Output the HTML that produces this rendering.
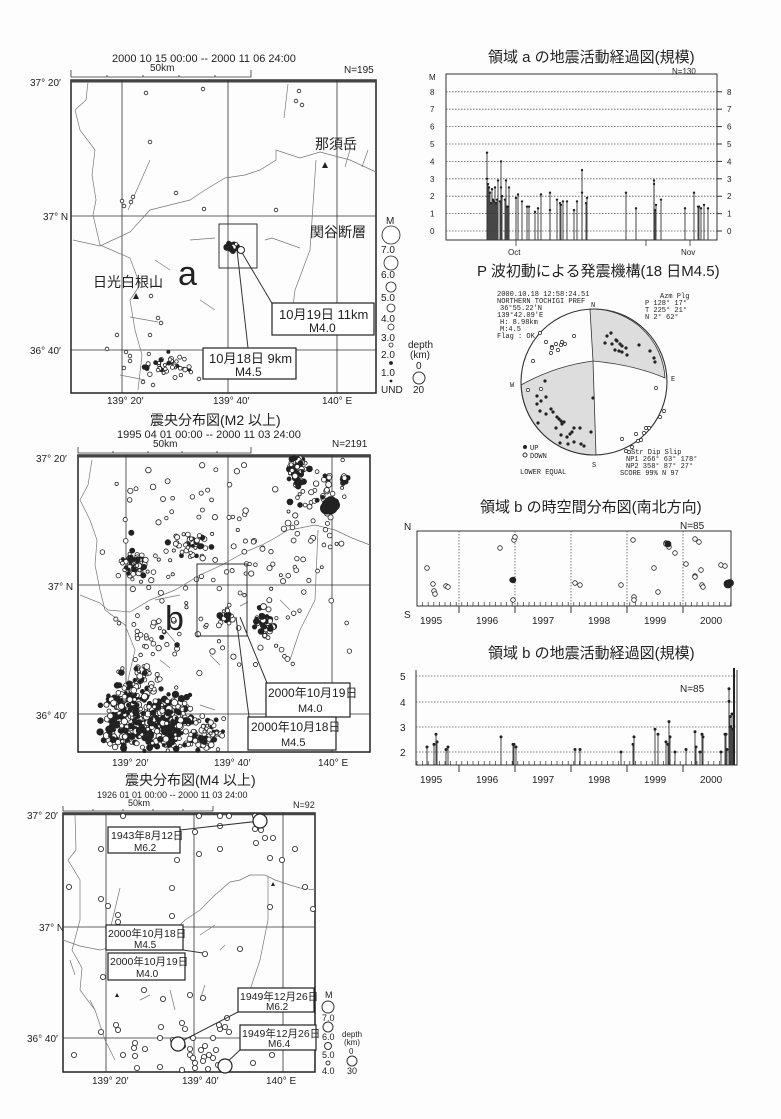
<!DOCTYPE html>
<html><head><meta charset="utf-8"><style>
html,body{margin:0;padding:0;background:#fdfdfd;}
svg{display:block;font-family:"Liberation Sans","Noto Sans CJK JP",sans-serif;}
.t{font-size:10px;fill:#222}
.j{font-size:15px;fill:#222}
.m{font-family:"Liberation Mono",monospace;font-size:7px;fill:#222}
.g{stroke:#333;stroke-width:0.8;fill:none}
.b{stroke:#777;stroke-width:0.7;fill:none}
.f{stroke:#333;stroke-width:1;fill:none}
.box{fill:#fff;stroke:#222;stroke-width:1.2}
.d{stroke:#555;stroke-width:0.8;stroke-dasharray:1.5 1.5;fill:none}
</style></head><body>
<svg id="s" width="781" height="1119" viewBox="0 0 781 1119" xmlns="http://www.w3.org/2000/svg">
<!-- ===== MAP A ===== -->
<text class="t" x="112" y="62" style="font-size:11px">2000 10 15 00:00 -- 2000 11 06 24:00</text>
<text class="t" x="150" y="71">50km</text>
<path class="g" d="M71 70V77H251V70M107 77v-2M143 77v-2M179 77v-2M215 77v-2"/>
<text class="t" x="344" y="73">N=195</text>
<rect x="71" y="80" width="305" height="313" fill="none" stroke="#222" stroke-width="1.5"/>
<line x1="71" y1="81" x2="376" y2="81" stroke="#444" stroke-width="3"/>
<path class="g" d="M122 80V393M228 80V393M337 80V393M71 216H376M71 350H376"/>
<text class="t" x="30" y="86">37° 20′</text>
<text class="t" x="43" y="220">37° N</text>
<text class="t" x="30" y="354">36° 40′</text>
<text class="t" x="107" y="404">139° 20′</text>
<text class="t" x="213" y="404">139° 40′</text>
<text class="t" x="322" y="404">140° E</text>
<path class="b" d="M73 240L100 246L130 232L150 210L170 205L190 200L205 190L225 178L245 175L260 170L276 160L276 150L300 158L320 152L350 160L376 172"/>
<path class="b" d="M88 82L86 100L75 110L80 130L95 150L92 175L96 200L93 215L100 245L130 258L140 285L130 300L135 330L142 355L138 390"/>
<path class="b" d="M150 160L128 210M316 160L310 250L295 290L290 330M288 84L284 118M350 150L345 167M368 150L362 167M265 240L272 238L300 248M155 260L170 270M190 240L215 238M200 300L215 310M130 317L158 322M120 375L145 380"/>
<polygon points="325,162 322,168 328,168" fill="#222"/>
<polygon points="136,293 133,299 139,299" fill="#222"/>
<text class="j" x="315" y="149" style="font-size:14px">那須岳</text>
<text class="j" x="310" y="237" style="font-size:14px">関谷断層</text>
<text class="j" x="93" y="287" style="font-size:14px">日光白根山</text>
<text x="178" y="285" style="font-size:34px;fill:#222">a</text>
<rect x="219" y="224" width="38" height="44" class="f"/>
<line x1="241" y1="251" x2="273" y2="305" class="f"/>
<line x1="237" y1="250" x2="248" y2="348" class="f"/>
<circle cx="236" cy="247" r="4" fill="#222"/><circle cx="241" cy="250" r="3.5" fill="#fff" stroke="#222"/>
<rect x="272" y="303" width="102" height="32" class="box"/>
<text class="j" x="279" y="319" style="font-size:13px">10月19日 11km</text>
<text class="t" x="309" y="332" style="font-size:12px">M4.0</text>
<rect x="203" y="348" width="93" height="31" class="box"/>
<text class="j" x="209" y="363" style="font-size:13px">10月18日 9km</text>
<text class="t" x="235" y="376" style="font-size:12px">M4.5</text>
<g id="legA"></g>
<text class="t" x="386" y="224">M</text>
<text class="t" x="381" y="253">7.0</text><text class="t" x="381" y="278">6.0</text><text class="t" x="381" y="301">5.0</text>
<text class="t" x="381" y="322">4.0</text><text class="t" x="381" y="341">3.0</text><text class="t" x="381" y="358">2.0</text>
<text class="t" x="381" y="376">1.0</text><text class="t" x="381" y="393">UND</text>
<text class="t" x="408" y="348">depth</text><text class="t" x="410" y="358">(km)</text>
<text class="t" x="416" y="369">0</text><circle cx="419" cy="378" r="6" class="f"/><text class="t" x="413" y="393">20</text>
<g id="dotsA"></g>
<!-- ===== MAP B ===== -->
<text class="j" x="150" y="425" style="font-size:14px">震央分布図(M2 以上)</text>
<text class="t" x="117" y="438" style="font-size:11px">1995 04 01 00:00 -- 2000 11 03 24:00</text>
<text class="t" x="153" y="447">50km</text>
<path class="g" d="M78 447V453H251V447M113 453v-2M148 453v-2M182 453v-2M217 453v-2"/>
<text class="t" x="332" y="447">N=2191</text>
<rect x="78" y="455" width="292" height="297" fill="none" stroke="#222" stroke-width="1.5"/>
<line x1="78" y1="456" x2="370" y2="456" stroke="#444" stroke-width="3"/>
<path class="g" d="M126 455V752M228 455V752M332 455V752M78 585H370M78 714H370"/>
<text class="t" x="36" y="462">37° 20′</text>
<text class="t" x="48" y="590">37° N</text>
<text class="t" x="36" y="719">36° 40′</text>
<text class="t" x="112" y="766">139° 20′</text>
<text class="t" x="214" y="766">139° 40′</text>
<text class="t" x="318" y="766">140° E</text>
<path class="b" d="M80 595L100 603L108 610L130 612L150 600L175 590L200 575L222 565L245 552L262 545L275 538L288 530L300 528L315 525L335 530L352 538L370 545"/>
<path class="b" d="M92 460L88 485L80 500L90 520L97 540L95 565L100 590L105 610L125 625L135 650L128 680L130 710M318 530L315 600L300 630L290 660"/>
<path class="b" d="M155 600L180 595M165 630L175 642M240 606L248 602M280 600L290 610M210 655L220 665M200 705L215 710M160 660L170 668"/>
<g id="dotsB"></g>
<rect x="197" y="564" width="50" height="72" class="f"/>
<line x1="240" y1="617" x2="267" y2="683" class="f"/>
<line x1="236" y1="617" x2="249" y2="717" class="f"/>
<text x="165" y="630" style="font-size:34px;fill:#222">b</text>
<rect x="266" y="683" width="84" height="34" class="box"/>
<text class="j" x="268" y="697" style="font-size:12px">2000年10月19日</text>
<text class="t" x="298" y="712" style="font-size:11px">M4.0</text>
<rect x="248" y="717" width="88" height="33" class="box"/>
<text class="j" x="251" y="731" style="font-size:12px">2000年10月18日</text>
<text class="t" x="281" y="746" style="font-size:11px">M4.5</text>
<!-- ===== MAP C ===== -->
<text class="j" x="125" y="785" style="font-size:14px">震央分布図(M4 以上)</text>
<text class="t" x="97" y="798" style="font-size:9px">1926 01 01 00:00 -- 2000 11 03 24:00</text>
<text class="t" x="128" y="806" style="font-size:9px">50km</text>
<path class="g" d="M63 806V811H213V806M93 811v-2M123 811v-2M153 811v-2M183 811v-2"/>
<text class="t" x="293" y="808" style="font-size:9px">N=92</text>
<rect x="63" y="813" width="252" height="259" fill="none" stroke="#222" stroke-width="1.5"/>
<line x1="63" y1="814" x2="315" y2="814" stroke="#444" stroke-width="2.5"/>
<path class="g" d="M106 813V1072M194 813V1072M283 813V1072M63 927H315M63 1038H315"/>
<text class="t" x="27" y="819">37° 20′</text>
<text class="t" x="39" y="931">37° N</text>
<text class="t" x="27" y="1042">36° 40′</text>
<text class="t" x="92" y="1084">139° 20′</text>
<text class="t" x="182" y="1084">139° 40′</text>
<text class="t" x="266" y="1084">140° E</text>
<path class="b" d="M63 940L80 946L100 950L120 945L145 950L170 935L185 920L200 910L215 895L230 882L240 880L250 875L265 875L275 880L290 885L300 888L315 890"/>
<path class="b" d="M75 815L76 850L68 860L80 880L80 920L72 950L82 968L80 990L95 1010L105 1040L115 1060M268 877L268 920L260 960L250 990L243 1000"/>
<path class="b" d="M120 888L110 930M200 935L215 925M220 950L225 945M70 960L75 975M90 1000L95 1010M170 990L175 1010M205 985L200 1000M140 1000L150 995"/>
<polygon points="273,882 271,886 275,886" fill="#222"/>
<polygon points="117,993 115,997 119,997" fill="#222"/>
<g id="dotsC"></g>
<line x1="180" y1="830" x2="260" y2="821" class="f"/>
<line x1="183" y1="950" x2="203" y2="953" class="f"/>
<line x1="238" y1="1012" x2="180" y2="1042" class="f"/>
<line x1="240" y1="1050" x2="225" y2="1064" class="f"/>
<circle cx="260" cy="821" r="7" fill="#fff" stroke="#222" stroke-width="1.2"/>
<circle cx="178" cy="1044" r="7" fill="#fff" stroke="#222" stroke-width="1.2"/>
<circle cx="225" cy="1066" r="7" fill="#fff" stroke="#222" stroke-width="1.2"/>
<rect x="108" y="827" width="72" height="26" class="box"/>
<text class="j" x="111" y="839" style="font-size:10.5px">1943年8月12日</text><text class="t" x="134" y="851">M6.2</text>
<rect x="106" y="925" width="77" height="25" class="box"/>
<text class="j" x="108" y="937" style="font-size:10.5px">2000年10月18日</text><text class="t" x="134" y="948">M4.5</text>
<rect x="108" y="953" width="77" height="27" class="box"/>
<text class="j" x="110" y="965" style="font-size:10.5px">2000年10月19日</text><text class="t" x="136" y="977">M4.0</text>
<rect x="238" y="988" width="76" height="24" class="box"/>
<text class="j" x="240" y="1000" style="font-size:10.5px">1949年12月26日</text><text class="t" x="266" y="1010">M6.2</text>
<rect x="240" y="1025" width="76" height="25" class="box"/>
<text class="j" x="242" y="1037" style="font-size:10.5px">1949年12月26日</text><text class="t" x="268" y="1047">M6.4</text>
<text class="t" x="325" y="998" style="font-size:9px">M</text>
<circle cx="328" cy="1007" r="6" class="f"/><text class="t" x="322" y="1021" style="font-size:9px">7.0</text>
<circle cx="328" cy="1027" r="5" class="f"/><text class="t" x="322" y="1040" style="font-size:9px">6.0</text>
<circle cx="328" cy="1046" r="3.5" class="f"/><text class="t" x="322" y="1058" style="font-size:9px">5.0</text>
<circle cx="328" cy="1063" r="2" class="f"/><text class="t" x="322" y="1074" style="font-size:9px">4.0</text>
<text class="t" x="342" y="1037" style="font-size:8px">depth</text><text class="t" x="344" y="1045" style="font-size:8px">(km)</text>
<text class="t" x="349" y="1054" style="font-size:8px">0</text><circle cx="352" cy="1061" r="5" class="f"/><text class="t" x="347" y="1074" style="font-size:9px">30</text>
<!-- ===== CHART A ===== -->
<text class="j" x="488" y="62">領域 a の地震活動経過図(規模)</text>
<text class="t" x="672" y="74" style="font-size:8px">N=130</text>
<text class="t" x="429" y="80" style="font-size:8px">M</text>
<rect x="446" y="74" width="271" height="166" class="f"/>
<g id="gridA"></g>
<text class="t" x="508" y="255" style="font-size:8px">Oct</text>
<text class="t" x="681" y="255" style="font-size:8px">Nov</text>
<line x1="516" y1="240" x2="516" y2="246" class="g"/><line x1="646" y1="240" x2="646" y2="246" class="g"/><line x1="690" y1="240" x2="690" y2="246" class="g"/>
<g id="barsA"></g>
<!-- ===== BEACH BALL ===== -->
<text class="j" x="477" y="276">P 波初動による発震機構(18 日M4.5)</text>
<path d="M590 309 L593 361 Q635 365 665 378 A73 73 0 0 0 590 309Z" fill="#ddd" stroke="#333" stroke-width="0.8"/>
<path d="M521 385 Q555 366 593 361 L596 455 A73 73 0 0 1 521 385Z" fill="#ddd" stroke="#333" stroke-width="0.8"/>
<circle cx="594" cy="382" r="73" fill="none" stroke="#333" stroke-width="1.1"/>
<g id="bb"></g>
<text class="m" x="497" y="296">2000.10.18  12:58:24.51</text>
<text class="m" x="497" y="303">NORTHERN TOCHIGI PREF</text>
<text class="m" x="500" y="310"> 36°55.22′N</text>
<text class="m" x="497" y="317">139°42.09′E</text>
<text class="m" x="500" y="324">  H:  8.98km</text>
<text class="m" x="500" y="331">  M:4.5</text>
<text class="m" x="497" y="338">Flag : OK</text>
<text class="m" x="660" y="298">Azm Plg</text>
<text class="m" x="645" y="305">P    128° 17°</text>
<text class="m" x="645" y="312">T    225° 21°</text>
<text class="m" x="645" y="319">N      2° 62°</text>
<text class="m" x="591" y="307">N</text><text class="m" x="510" y="387">W</text><text class="m" x="671" y="381">E</text><text class="m" x="592" y="467">S</text>
<circle cx="525" cy="447" r="2" fill="#222"/><text class="m" x="530" y="450">UP</text>
<circle cx="525" cy="455" r="2" class="f"/><text class="m" x="530" y="458">DOWN</text>
<text class="m" x="631" y="454">Str Dip Slip</text>
<text class="m" x="626" y="461">NP1 266° 63° 178°</text>
<text class="m" x="626" y="468">NP2 358° 87°  27°</text>
<text class="m" x="620" y="475">SCORE  99%   N  97</text>
<text class="m" x="520" y="474">LOWER EQUAL</text>
<!-- ===== CHART B1 ===== -->
<text class="j" x="480" y="512">領域 b の時空間分布図(南北方向)</text>
<text class="t" x="404" y="530">N</text><text class="t" x="404" y="618">S</text>
<text class="t" x="680" y="529">N=85</text>
<rect x="417" y="531" width="314" height="75" class="f"/>
<path class="d" d="M459 531V606M515 531V606M571 531V606M627 531V606M683 531V606"/>
<g id="ticksB1"></g>
<g id="dotsB1"></g>
<text class="t" x="420" y="624">1995</text><text class="t" x="476" y="624">1996</text><text class="t" x="532" y="624">1997</text>
<text class="t" x="588" y="624">1998</text><text class="t" x="644" y="624">1999</text><text class="t" x="700" y="624">2000</text>
<!-- ===== CHART B2 ===== -->
<text class="j" x="488" y="658">領域 b の地震活動経過図(規模)</text>
<text class="t" x="680" y="692">N=85</text>
<path class="f" d="M416 670V765H737V670"/>
<path class="d" d="M416 676H737M416 702H737M416 727H737M416 752H737"/>
<text class="t" x="400" y="680">5</text><text class="t" x="400" y="706">4</text><text class="t" x="400" y="731">3</text><text class="t" x="400" y="756">2</text>
<g id="ticksB2"></g>
<g id="barsB2"></g>
<text class="t" x="420" y="783">1995</text><text class="t" x="476" y="783">1996</text><text class="t" x="532" y="783">1997</text>
<text class="t" x="588" y="783">1998</text><text class="t" x="644" y="783">1999</text><text class="t" x="700" y="783">2000</text>
</svg>
<script>
var NS="http://www.w3.org/2000/svg";
var seed=7;function R(){seed=(seed*16807)%2147483647;return (seed-1)/2147483646;}
function G(){return (R()+R()+R()-1.5)*1.4;}
function el(p,t,a){var e=document.createElementNS(NS,t);for(var k in a)e.setAttribute(k,a[k]);document.getElementById(p).appendChild(e);return e;}
function c(p,x,y,r,f){el(p,"circle",{cx:x,cy:y,r:r,fill:f?"#222":"#fff",stroke:"#222","stroke-width":0.8});}
function cl(p,x,y,sx,sy,n,r0,r1,fp,box){for(var i=0;i<n;i++){var X=x+G()*sx,Y=y+G()*sy;if(box&&(X<box[0]||X>box[2]||Y<box[1]||Y>box[3]))continue;c(p,X,Y,r0+R()*(r1-r0),R()<fp);}}
[[391,235,9],[391,263,7],[391,287,5],[391,308,4],[391,327,3],[391,345,2],[391,363,1.5],[391,381,1]].forEach(function(a){c("legA",a[0],a[1],a[2],a[2]<1.6);});
var bA=[72,81,375,392];
[[146,93],[203,89],[150,142],[176,193],[122,201],[124,206],[133,197],[131,202],[204,209],[276,210],[299,91],[296,101],[302,105],[151,296],[158,318],[161,323],[117,335],[150,335],[107,349],[126,352],[130,356],[130,361],[124,368],[147,369],[153,385],[143,382],[184,369],[199,379]].forEach(function(a){c("dotsA",a[0],a[1],1.8,false);});
cl("dotsA",165,365,15,8,40,1.5,2.3,0.25,bA);
cl("dotsA",232,246,3,3,14,1.5,3,0.7,bA);
var bB=[79,456,369,751];
cl("dotsB",225,560,85,65,150,1.5,2.8,0.04,bB);
cl("dotsB",135,565,8,8,70,1.5,3,0.5,bB);
cl("dotsB",150,630,25,20,30,1.5,2.5,0.1,bB);
cl("dotsB",190,545,15,10,35,1.5,2.8,0.3,bB);
cl("dotsB",298,470,8,10,60,1.5,3,0.5,bB);
cl("dotsB",318,500,20,25,40,1.5,3,0.15,bB);
cl("dotsB",266,622,8,10,45,1.5,3,0.4,bB);
cl("dotsB",228,615,6,6,20,1.5,3,0.4,bB);
cl("dotsB",125,718,15,18,220,1.5,3.3,0.55,bB);
cl("dotsB",165,722,20,20,340,1.5,3.3,0.55,bB);
cl("dotsB",205,735,12,12,70,1.5,3,0.3,bB);
cl("dotsB",140,680,12,10,50,1.5,3,0.3,bB);
cl("dotsB",330,505,4,4,20,3,6,0.9,bB);
c("dotsB",330,506,8,true);
cl("dotsB",345,478,4,3,8,2,3.5,0.8,bB);
[[123,816],[199,816],[220,816],[229,816],[255,816],[220,826],[195,832],[255,829],[261,830],[265,838],[273,838],[256,843],[220,849],[199,854],[101,849],[177,860],[270,858],[282,860],[295,849],[69,887],[101,899],[108,906],[172,888],[118,915],[118,922],[172,916],[305,887],[313,909],[270,907],[205,954],[240,949],[103,977],[144,990],[163,999],[190,995],[203,998],[116,1025],[101,1032],[118,1030],[161,1027],[182,1023],[185,1029],[220,1029],[219,1025],[225,1027],[229,1032],[160,1038],[173,1040],[193,1038],[201,1050],[213,1038],[205,1046],[209,1055],[190,1049],[216,1050],[213,1058],[190,1055],[204,1057],[203,1061],[183,1046],[193,1058],[195,1063],[218,1065],[272,1055],[253,1063],[160,1067],[137,1068],[195,1068],[208,1069],[182,1070],[74,1055],[123,1055],[134,1048],[135,1056],[135,1043],[145,1049],[227,1018]].forEach(function(a){c("dotsC",a[0],a[1],2.6,false);});
for(var m=0;m<=8;m++){var y=231-m*17.4;el("gridA","line",{x1:446,y1:y,x2:717,y2:y,"class":"d"});el("gridA","line",{x1:717,y1:y,x2:722,y2:y,stroke:"#333"});
var t=el("gridA","text",{x:430,y:y+3,"class":"t","style":"font-size:8px"});t.textContent=m;var t2=el("gridA","text",{x:727,y:y+3,"class":"t","style":"font-size:8px"});t2.textContent=m;}
var barsA=[[487,4.5],[487,3],[488,2.7],[489,2.5],[490,2.2],[491,1.6],[492,2.4],[493,1.8],[494,1.7],[495,2.5],[496,1.6],[497,1.8],[498,2.9],[500,1.7],[501,4],[501,2.5],[502,2],[505,1.8],[506,2.9],[507,1.4],[508,1.4],[509,2.5],[516,1.9],[518,2.1],[522,1.7],[527,1.4],[529,1.4],[535,1.1],[538,1.3],[541,2.1],[550,2.2],[550,1.2],[557,1.8],[560,1.6],[561,1.5],[563,1.7],[567,1.7],[574,1.2],[577,1.7],[582,3.5],[582,2.2],[586,1.6],[587,1.9],[626,2.2],[636,1.3],[654,2.9],[654,2.7],[655,1.2],[656,1.5],[661,1.8],[685,1.3],[694,2.2],[698,1.4],[699,1.4],[701,1.3],[704,1.5],[708,1.3]];
barsA.forEach(function(b){var y=231-b[1]*17.4;el("barsA","line",{x1:b[0],y1:240,x2:b[0],y2:y,stroke:"#333","stroke-width":0.9});el("barsA","circle",{cx:b[0],cy:y,r:1.2,fill:"#222"});});
var up=[[607,336],[611,333],[616,340],[605,343],[612,344],[617,341],[620,344],[622,346],[615,350],[619,351],[622,352],[626,348],[639,345],[627,355],[650,351],[654,358],[655,362],[537,396],[546,397],[537,404],[541,401],[551,409],[540,411],[553,412],[557,417],[559,419],[561,421],[562,424],[564,422],[538,423],[556,428],[570,434],[561,435],[567,437],[572,432],[574,428],[580,428],[560,443],[568,444],[574,442],[584,446],[591,432],[593,398],[545,381],[546,414],[581,444]];
up.forEach(function(a){el("bb","circle",{cx:a[0],cy:a[1],r:1.6,fill:"#222"});});
var dn=[[540,333],[546,342],[552,347],[552,348],[556,344],[561,345],[565,344],[551,353],[558,350],[562,342],[574,336],[533,361],[541,389],[656,388],[622,439],[636,434],[641,440],[629,452],[638,441],[644,433],[646,428],[649,428],[660,417],[664,411],[632,447],[626,451],[528,390]];
dn.forEach(function(a){el("bb","circle",{cx:a[0],cy:a[1],r:1.6,fill:"#fff",stroke:"#222","stroke-width":0.7});});
for(var x=417;x<=731;x+=5.6){el("ticksB1","line",{x1:x,y1:606,x2:x,y2:602,stroke:"#333","stroke-width":0.7});el("ticksB2","line",{x1:x,y1:765,x2:x,y2:761,stroke:"#333","stroke-width":0.7});}
[459,515,571,627,683].forEach(function(x){el("ticksB1","line",{x1:x,y1:606,x2:x,y2:613,stroke:"#333"});el("ticksB2","line",{x1:x,y1:765,x2:x,y2:772,stroke:"#333"});});
[[427,568],[433,584],[434,591],[435,594],[446,586],[448,587],[500,548],[514,540],[515,537],[512,580],[513,600],[575,583],[580,585],[621,585],[633,540],[634,597],[634,600],[654,568],[658,592],[666,543],[666,544],[669,547],[675,553],[686,564],[695,539],[699,542],[701,570],[695,576],[695,577],[702,585],[703,587],[721,565],[725,566],[728,584]].forEach(function(a){c("dotsB1",a[0],a[1],2.3,false);});
c("dotsB1",513,580,2.8,true);c("dotsB1",668,544,3,true);c("dotsB1",728,584,4,true);c("dotsB1",730,583,3.5,true);
var bB2=[[427,2.2],[434,2.3],[436,2.7],[437,2.4],[446,2.1],[448,2.2],[501,2.6],[513,2.3],[514,2.3],[516,2.2],[575,2.1],[580,2.1],[621,2],[633,2.3],[634,2.6],[655,2.9],[658,2.7],[666,2.4],[668,2.3],[669,3.2],[670,2.6],[675,2],[686,2.1],[695,2.8],[696,2.2],[700,2],[702,2.7],[703,2.6],[721,2],[725,2.7],[726,2.7],[727,2.1],[729,4.5],[729,4],[730,3.4],[731,3],[732,3.5],[733,2.9]];
bB2.forEach(function(b){var y=752-(b[1]-2)*25.3;el("barsB2","line",{x1:b[0],y1:765,x2:b[0],y2:y,stroke:"#333","stroke-width":0.9});el("barsB2","circle",{cx:b[0],cy:y,r:1.5,fill:"#222"});});
el("barsB2","line",{x1:734,y1:668,x2:734,y2:765,stroke:"#222","stroke-width":2});
</script>
</body></html>
